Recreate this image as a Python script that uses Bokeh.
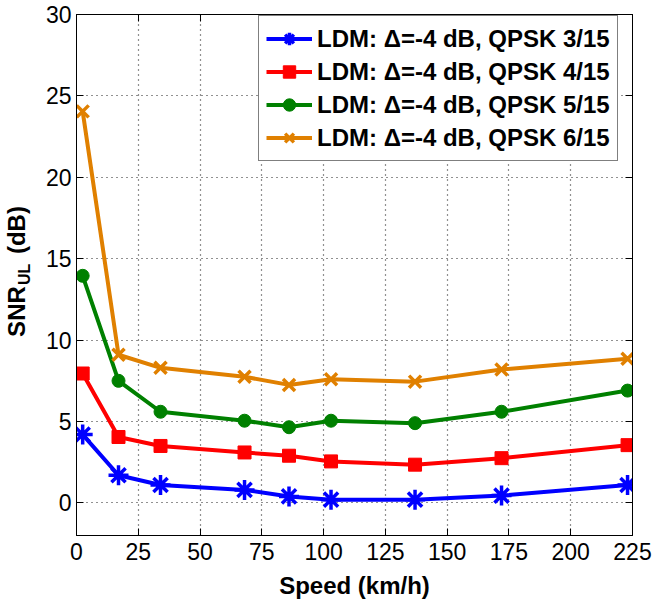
from bokeh.plotting import figure
from bokeh.layouts import row
from bokeh.models import (Range1d, FixedTicker, LinearAxis, Legend, LegendItem,
                          Label, CustomJSTickFormatter)
from bokeh.embed import file_html
from bokeh.resources import INLINE
import math

# ---- data ----
speed = [2.5, 17, 34, 68, 86, 103, 137, 172, 223]
snr_qpsk_3_15 = [4.2, 1.7, 1.1, 0.8, 0.4, 0.2, 0.2, 0.45, 1.1]
snr_qpsk_4_15 = [7.95, 4.05, 3.5, 3.1, 2.9, 2.55, 2.35, 2.75, 3.55]
snr_qpsk_5_15 = [13.95, 7.5, 5.6, 5.05, 4.65, 5.05, 4.9, 5.6, 6.9]
snr_qpsk_6_15 = [24.05, 9.1, 8.3, 7.75, 7.25, 7.6, 7.45, 8.2, 8.85]
series_labels = ["LDM: \u0394=-4 dB, QPSK 3/15", "LDM: \u0394=-4 dB, QPSK 4/15",
                 "LDM: \u0394=-4 dB, QPSK 5/15", "LDM: \u0394=-4 dB, QPSK 6/15"]
x_ticks = [0, 25, 50, 75, 100, 125, 150, 175, 200, 225]
y_ticks = [0, 5, 10, 15, 20, 25, 30]
x_title = "Speed (km/h)"
y_title_parts = ["SNR", "UL", "(dB)"]

FONT = "Liberation Sans"
H = 601
LEFT_W = 42
TOP_B = 14
BOT_B = 65

# ---- narrow strip holding the rotated y-axis title (with subscript) ----
side = figure(width=LEFT_W, height=H, output_backend="svg", toolbar_location=None,
              x_range=Range1d(0, LEFT_W), y_range=Range1d(BOT_B, H - TOP_B),
              x_axis_location=None, y_axis_location=None,
              min_border_left=0, min_border_right=0,
              min_border_top=TOP_B, min_border_bottom=BOT_B)
side.grid.visible = False
side.outline_line_color = None
side.background_fill_color = "white"
side.border_fill_color = "white"
for txt, xb, ystart, fs in ((y_title_parts[0], 16, H - 337, "24px"),
                            (y_title_parts[1], 24, H - 285, "16px"),
                            (y_title_parts[2], 16, H - 254, "24px")):
    side.add_layout(Label(x=xb, y=ystart, text=txt, angle=math.pi / 2,
                          text_font=FONT, text_font_size=fs, text_font_style="bold",
                          text_align="left", text_baseline="alphabetic",
                          text_color="black"))

# ---- main plot ----
p = figure(width=652 - LEFT_W, height=H, output_backend="svg", toolbar_location=None,
           x_range=Range1d(0, 225), y_range=Range1d(-2, 30),
           min_border_left=76 - LEFT_W, min_border_right=20, min_border_top=TOP_B,
           min_border_bottom=BOT_B)
p.outline_line_color = "black"
p.outline_line_width = 1
p.background_fill_color = "white"
p.border_fill_color = "white"

for ax, ticks in ((p.xaxis[0], x_ticks), (p.yaxis[0], y_ticks)):
    ax.ticker = FixedTicker(ticks=ticks)
    ax.major_tick_in = 7
    ax.major_tick_out = 0
    ax.minor_tick_line_color = None
    ax.axis_line_color = "black"
    ax.major_tick_line_color = "black"
    ax.major_label_text_font = FONT
    ax.major_label_text_font_size = "23px"
    ax.major_label_text_color = "black"
    ax.major_label_standoff = 5

p.xaxis.major_label_standoff = 7
p.xaxis.axis_label = x_title
p.xaxis.axis_label_text_font = FONT
p.xaxis.axis_label_text_font_size = "24px"
p.xaxis.axis_label_text_font_style = "bold"
p.xaxis.axis_label_text_color = "black"
p.xaxis.axis_label_standoff = 9

blank = CustomJSTickFormatter(code="return ''")
top_ax = LinearAxis(ticker=FixedTicker(ticks=x_ticks), formatter=blank,
                    major_tick_in=7, major_tick_out=0, minor_tick_line_color=None,
                    axis_line_color="black", major_label_standoff=0)
right_ax = LinearAxis(ticker=FixedTicker(ticks=y_ticks), formatter=blank,
                      major_tick_in=7, major_tick_out=0, minor_tick_line_color=None,
                      axis_line_color="black", major_label_standoff=0)
p.add_layout(top_ax, "above")
p.add_layout(right_ax, "right")

p.xgrid.ticker = FixedTicker(ticks=x_ticks)
p.ygrid.ticker = FixedTicker(ticks=y_ticks)
for g in (p.xgrid, p.ygrid):
    g.grid_line_color = "#222222"
    g.grid_line_dash = "1 4"
    g.grid_line_width = 1.2

colors = ["#0000FF", "#FF0000", "#008000", "#E08000"]
markers = ["asterisk", "square", "circle", "x"]
sizes = [20, 13, 13, 17]
mlw = [3.5, 1, 1, 3.5]
series = [snr_qpsk_3_15, snr_qpsk_4_15, snr_qpsk_5_15, snr_qpsk_6_15]

items = []
for ys, c, m, s, lw, lab in zip(series, colors, markers, sizes, mlw, series_labels):
    lr = p.line(speed, ys, line_color=c, line_width=4)
    sr = p.scatter(speed, ys, marker=m, size=s, fill_color=c, line_color=c, line_width=lw)
    items.append(LegendItem(label=lab, renderers=[lr, sr]))

legend = Legend(items=items, location=(182, 374))
legend.label_text_font = FONT
legend.label_text_font_size = "24px"
legend.label_text_font_style = "bold"
legend.label_text_color = "black"
legend.glyph_width = 46
legend.glyph_height = 31
legend.label_height = 31
legend.label_standoff = 5
legend.spacing = 2
legend.padding = 7
legend.margin = 0
legend.border_line_color = "black"
legend.border_line_width = 1
legend.background_fill_color = "white"
legend.background_fill_alpha = 1
p.add_layout(legend, "center")

layout = row(side, p, spacing=0)
open("out.html", "w").write(file_html(layout, INLINE))
